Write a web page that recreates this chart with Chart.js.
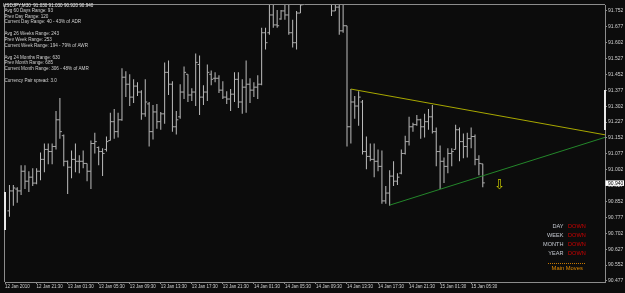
<!DOCTYPE html>
<html>
<head>
<meta charset="utf-8">
<script src="https://cdn.jsdelivr.net/npm/chart.js@4.4.1/dist/chart.umd.min.js"></script>
<style>
  html, body { margin: 0; padding: 0; background: #0c0c0c; }
  canvas { display: block; }
</style>
</head>
<body>
<canvas id="myChart" width="625" height="293"></canvas>
<script>
// USDJPY M30 bars, first bar = 12 Jan 18:00
var opens = [
  90.808, 90.902, 90.911, 90.902, 90.995, 90.948, 90.967, 90.939, 90.995, 91.051,
  91.098, 91.088, 91.112, 91.238, 91.163, 91.042, 91.014, 91.051, 91.042, 91.042,
  91.032, 90.995, 91.126, 91.107, 91.088, 91.098, 91.140, 91.229, 91.182, 91.238,
  91.439, 91.406, 91.345, 91.397, 91.369, 91.266, 91.313, 91.182, 91.275, 91.229,
  91.266, 91.462, 91.406, 91.205, 91.252, 91.369, 91.453, 91.355, 91.369, 91.499,
  91.345, 91.369, 91.453, 91.434, 91.434, 91.378, 91.345, 91.336, 91.359, 91.429,
  91.322, 91.392, 91.406, 91.378, 91.392, 91.406, 91.649, 91.649, 91.733, 91.686,
  91.714, 91.752, 91.733, 91.649, 91.602, 91.742, 91.782, 91.845, 91.880, 91.872,
  91.860, 91.830, 91.810, 91.790, 91.752, 91.770, 91.658, 91.682, 91.205, 91.322,
  91.303, 91.322, 91.088, 91.065, 91.051, 91.042, 91.018, 90.855, 90.892, 90.972,
  90.948, 90.986, 91.079, 91.135, 91.205, 91.215, 91.238, 91.205, 91.229, 91.252,
  91.182, 91.088, 91.042, 91.018, 91.079, 91.098, 91.191, 91.135, 91.112, 91.149,
  91.159, 91.051, 91.030
];
var highs = [
  90.930, 90.930, 90.920, 91.023, 91.023, 90.995, 91.009, 91.009, 91.084, 91.126,
  91.126, 91.126, 91.280, 91.341, 91.168, 91.046, 91.093, 91.126, 91.070, 91.093,
  91.032, 91.140, 91.177, 91.112, 91.103, 91.159, 91.271, 91.289, 91.271, 91.481,
  91.467, 91.453, 91.429, 91.415, 91.378, 91.429, 91.322, 91.308, 91.313, 91.275,
  91.509, 91.518, 91.420, 91.280, 91.406, 91.490, 91.453, 91.387, 91.551, 91.541,
  91.401, 91.499, 91.471, 91.462, 91.448, 91.420, 91.373, 91.383, 91.462, 91.462,
  91.429, 91.518, 91.434, 91.415, 91.448, 91.672, 91.672, 91.792, 91.801, 91.756,
  91.756, 91.795, 91.790, 91.710, 91.752, 91.812, 91.862, 91.905, 91.930, 91.915,
  91.898, 91.870, 91.840, 91.815, 91.806, 91.798, 91.793, 91.682, 91.383, 91.350,
  91.373, 91.331, 91.159, 91.126, 91.126, 91.098, 91.093, 90.925, 91.000, 91.042,
  90.986, 91.098, 91.163, 91.252, 91.224, 91.261, 91.243, 91.266, 91.289, 91.308,
  91.201, 91.117, 91.060, 91.103, 91.103, 91.215, 91.201, 91.173, 91.177, 91.201,
  91.168, 91.070, 91.030
];
var lows = [
  90.780, 90.832, 90.846, 90.883, 90.911, 90.897, 90.925, 90.934, 90.953, 90.990,
  91.028, 91.028, 91.098, 91.149, 91.018, 90.888, 90.962, 90.990, 90.986, 91.009,
  90.948, 90.911, 91.079, 91.023, 90.972, 91.088, 91.140, 91.149, 91.154, 91.233,
  91.345, 91.303, 91.317, 91.350, 91.238, 91.252, 91.112, 91.145, 91.196, 91.191,
  91.219, 91.355, 91.182, 91.168, 91.243, 91.336, 91.322, 91.327, 91.303, 91.261,
  91.308, 91.327, 91.401, 91.415, 91.364, 91.336, 91.313, 91.280, 91.322, 91.294,
  91.266, 91.271, 91.317, 91.345, 91.336, 91.401, 91.570, 91.640, 91.672, 91.672,
  91.710, 91.710, 91.640, 91.579, 91.570, 91.742, 91.781, 91.828, 91.850, 91.842,
  91.815, 91.795, 91.785, 91.728, 91.752, 91.640, 91.649, 91.112, 91.126, 91.243,
  91.210, 91.074, 91.004, 91.042, 90.967, 90.995, 90.841, 90.841, 90.832, 90.925,
  90.930, 90.981, 91.074, 91.117, 91.182, 91.210, 91.149, 91.154, 91.191, 91.173,
  91.018, 90.911, 90.939, 90.986, 91.018, 91.098, 91.042, 91.056, 91.060, 91.103,
  91.023, 90.976, 90.920
];
var closes = [
  90.902, 90.916, 90.902, 90.995, 90.948, 90.967, 90.939, 90.995, 91.051, 91.098,
  91.088, 91.112, 91.238, 91.182, 91.042, 91.014, 91.051, 91.042, 91.042, 91.032,
  90.995, 91.126, 91.135, 91.088, 91.079, 91.135, 91.229, 91.182, 91.238, 91.439,
  91.406, 91.345, 91.397, 91.369, 91.266, 91.322, 91.182, 91.275, 91.229, 91.266,
  91.462, 91.406, 91.205, 91.238, 91.369, 91.462, 91.355, 91.369, 91.509, 91.345,
  91.369, 91.462, 91.429, 91.434, 91.378, 91.345, 91.336, 91.359, 91.429, 91.322,
  91.392, 91.406, 91.378, 91.392, 91.406, 91.649, 91.602, 91.733, 91.686, 91.682,
  91.752, 91.733, 91.649, 91.602, 91.742, 91.780, 91.845, 91.880, 91.872, 91.860,
  91.830, 91.810, 91.790, 91.752, 91.770, 91.658, 91.682, 91.205, 91.322, 91.303,
  91.345, 91.088, 91.065, 91.051, 91.042, 91.018, 90.855, 90.892, 90.972, 90.948,
  90.967, 91.079, 91.135, 91.205, 91.215, 91.238, 91.205, 91.229, 91.252, 91.182,
  91.088, 91.042, 91.018, 91.079, 91.088, 91.191, 91.135, 91.112, 91.149, 91.159,
  91.051, 91.032, 90.940
];

var priceTicks = [
  91.752, 91.677, 91.602, 91.527, 91.452, 91.377, 91.302, 91.227, 91.152,
  91.077, 91.002, 90.927, 90.852, 90.777, 90.702, 90.627, 90.552, 90.477
];
var timeLabels = [
  "12 Jan 2010", "12 Jan 21:30", "13 Jan 01:30", "13 Jan 05:30", "13 Jan 09:30",
  "13 Jan 13:30", "13 Jan 17:30", "13 Jan 21:30", "14 Jan 01:30", "14 Jan 05:30",
  "14 Jan 09:30", "14 Jan 13:30", "14 Jan 17:30", "14 Jan 21:30", "15 Jan 01:30",
  "15 Jan 05:30"
];
var firstLabelBar = 7;
var barsPerLabel = 8;

// trend lines (bar index, price)
var upperLine = [{x: 88, y: 91.383}, {x: 153.5, y: 91.167}];
var lowerLine = [{x: 98, y: 90.835}, {x: 153.5, y: 91.155}];
var signalArrow = {x: 126.3, y: 90.925};

var headerText = "USDJPY,M30  91.030 91.030 90.920 90.940";
var infoLines = [
  "Avg 60 Days Range: 93",
  "Prev Day Range: 120",
  "Current Day Range: 40 - 43% of ADR",
  "",
  "Avg 26 Weeks Range: 243",
  "Prev Week Range: 253",
  "Current Week Range: 194 - 79% of AWR",
  "",
  "Avg 24 Months Range: 630",
  "Prev Month Range: 685",
  "Current Month Range: 306 - 48% of AMR",
  "",
  "Currency Pair spread: 3.0"
];
var moveNames = ["DAY", "WEEK", "MONTH", "YEAR"];
var moveValues = ["DOWN", "DOWN", "DOWN", "DOWN"];

var xMin = -1.15;
var xMax = 153.5;
var yMin = 90.472;
var yMax = 91.780;

var barColor = "#bdbdbd";
var axisColor = "#8c8c8c";
var textColor = "#d0d0d0";

function rangeData() {
  var out = [];
  for (var i = 0; i < highs.length; i++) {
    out.push({x: i, y: [lows[i], highs[i]]});
  }
  return out;
}

function tickData(arr, shift) {
  var out = [];
  for (var i = 0; i < arr.length; i++) {
    out.push({x: i + shift, y: arr[i]});
  }
  return out;
}

var overlay = {
  id: "overlay",
  beforeDraw: function(chart) {
    var ctx = chart.ctx;
    ctx.save();
    ctx.fillStyle = "#0c0c0c";
    ctx.fillRect(0, 0, chart.width, chart.height);
    ctx.restore();
  },
  afterDraw: function(chart) {
    var ctx = chart.ctx;
    var area = chart.chartArea;
    var xs = chart.scales.x;
    var ys = chart.scales.y;

    ctx.save();

    // frame top / left
    ctx.strokeStyle = axisColor;
    ctx.lineWidth = 1;
    ctx.beginPath();
    ctx.moveTo(area.left - 0.5, area.bottom);
    ctx.lineTo(area.left - 0.5, area.top - 0.5);
    ctx.lineTo(area.right, area.top - 0.5);
    ctx.stroke();

    ctx.fillStyle = "#e8e8e8";
    ctx.fillRect(area.right - 1, 90, 2, 40);
    ctx.fillRect(area.left - 1, 192, 2, 38);

    // range info
    ctx.textBaseline = "middle";
    ctx.textAlign = "left";
    ctx.font = "4.6px 'Liberation Sans'";
    ctx.fillStyle = "#ececec";
    ctx.fillText(headerText, 3, 5.5);
    ctx.fillStyle = textColor;
    for (var i = 0; i < infoLines.length; i++) {
      ctx.fillText(infoLines[i], 4.5, 10.5 + i * 5.85);
    }

    // main moves box
    ctx.font = "5.6px 'Liberation Sans'";
    for (var j = 0; j < moveNames.length; j++) {
      ctx.textAlign = "right";
      ctx.fillStyle = "#c4c8d0";
      ctx.fillText(moveNames[j], 563.5, 226.7 + j * 9);
      ctx.textAlign = "left";
      ctx.fillStyle = "#d00000";
      ctx.fillText(moveValues[j], 568, 226.7 + j * 9);
    }
    ctx.strokeStyle = "#c87800";
    ctx.setLineDash([1, 1]);
    ctx.beginPath();
    ctx.moveTo(548, 263.5);
    ctx.lineTo(586, 263.5);
    ctx.stroke();
    ctx.setLineDash([]);
    ctx.textAlign = "center";
    ctx.fillStyle = "#e08a00";
    ctx.font = "5.8px 'Liberation Sans'";
    ctx.fillText("Main Moves", 567.2, 268.8);

    // signal arrow
    ctx.fillStyle = "#c8c800";
    ctx.font = "13px 'DejaVu Sans'";
    ctx.fillText("\u21e9", xs.getPixelForValue(signalArrow.x), ys.getPixelForValue(signalArrow.y));

    // last price marker
    var last = closes[closes.length - 1];
    var py = ys.getPixelForValue(last);
    ctx.fillStyle = "#ffffff";
    ctx.fillRect(area.right + 0.5, py - 2.5, 18.5, 5.5);
    ctx.fillStyle = "#000000";
    ctx.textAlign = "left";
    ctx.font = "5px 'Liberation Sans'";
    ctx.fillText(last.toFixed(3), area.right + 3, py + 0.3);

    ctx.restore();
  }
};

function drawChart() {

  var ctx = document.getElementById("myChart");
  var myChart = new Chart(ctx, {
    type: "bar",
    data: {
      datasets: [
        {
          type: "bar",
          data: rangeData(),
          backgroundColor: barColor,
          borderWidth: 0,
          barThickness: 1,
          inflateAmount: 0,
          order: 3
        },
        {
          type: "line",
          data: tickData(opens, -0.26),
          showLine: false,
          pointStyle: "line",
          pointRadius: 1,
          pointBorderWidth: 1,
          borderColor: "#a8a8a8",
          order: 2
        },
        {
          type: "line",
          data: tickData(closes, 0.26),
          showLine: false,
          pointStyle: "line",
          pointRadius: 1,
          pointBorderWidth: 1,
          borderColor: "#a8a8a8",
          order: 2
        },
        {
          type: "line",
          data: upperLine,
          borderColor: "#a8a800",
          borderWidth: 1,
          pointRadius: 0,
          order: 1
        },
        {
          type: "line",
          data: lowerLine,
          borderColor: "#23862a",
          borderWidth: 1,
          pointRadius: 0,
          order: 1
        }
      ]
    },
    options: {
      responsive: false,
      animation: false,
      events: [],
      layout: {
        padding: {left: 2, top: 2, right: 0, bottom: 0}
      },
      plugins: {
        legend: {display: false},
        tooltip: {enabled: false}
      },
      scales: {
        x: {
          type: "linear",
          min: xMin,
          max: xMax,
          offset: false,
          grid: {
            offset: false,
            drawOnChartArea: false,
            color: axisColor,
            tickLength: 2
          },
          border: {color: axisColor},
          ticks: {
            autoSkip: false,
            maxRotation: 0,
            minRotation: 0,
            align: "start",
            padding: 0,
            color: textColor,
            font: {family: "Liberation Sans", size: 4.5},
            callback: function(value, index) {
              return timeLabels[index];
            }
          },
          afterBuildTicks: function(scale) {
            var t = [{value: xMin}];
            for (var k = 1; k < timeLabels.length; k++) {
              t.push({value: firstLabelBar + (k - 1) * barsPerLabel});
            }
            scale.ticks = t;
          },
          afterFit: function(scale) {
            scale.height = 11;
            scale.paddingLeft = 0;
            scale.paddingRight = 0;
          }
        },
        y: {
          position: "right",
          min: yMin,
          max: yMax,
          grid: {
            drawOnChartArea: false,
            color: axisColor,
            tickLength: 2
          },
          border: {color: axisColor},
          ticks: {
            padding: 1,
            color: textColor,
            font: {family: "Liberation Sans", size: 5},
            callback: function(value) {
              return value.toFixed(3);
            }
          },
          afterBuildTicks: function(scale) {
            scale.ticks = priceTicks.map(function(v) { return {value: v}; });
          },
          afterFit: function(scale) {
            scale.width = 20;
            scale.paddingTop = 0;
            scale.paddingBottom = 0;
          }
        }
      }
    },
    plugins: [overlay]
  });
}

drawChart();
</script>
</body>
</html>
